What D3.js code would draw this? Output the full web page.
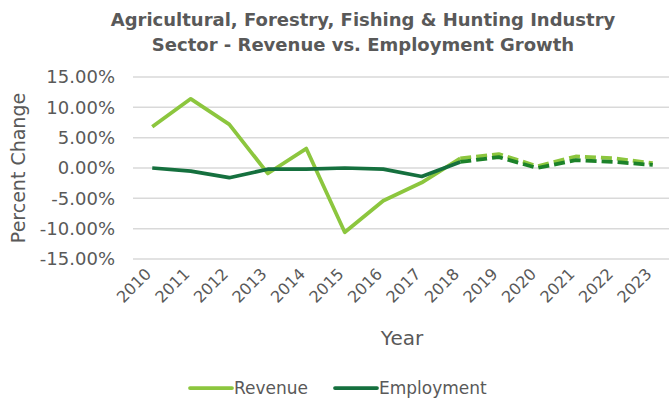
<!DOCTYPE html>
<html>
<head>
<meta charset="utf-8">
<script src="https://cdn.jsdelivr.net/npm/d3@7"></script>
<style>
  body { margin: 0; background: #fff; }
  text { font-family: "DejaVu Sans", Verdana, sans-serif; fill: #595959; }
</style>
</head>
<body>
<script>
// Revenue vs employment growth, actual to 2018 then projected (dashed)
var years = ['2010', '2011', '2012', '2013', '2014', '2015', '2016',
             '2017', '2018', '2019', '2020', '2021', '2022', '2023'];
var revenue = [6.8, 11.4, 7.2, -0.9, 3.2, -10.6, -5.4,
               -2.4, 1.6, 2.3, 0.3, 1.9, 1.6, 0.8];
var employment = [0.0, -0.5, -1.6, -0.2, -0.2, 0.0, -0.2,
                  -1.4, 1.0, 1.8, 0.0, 1.3, 1.0, 0.5];
var yTicks = [15, 10, 5, 0, -5, -10, -15];
var lastActual = '2018';

var w = 669;
var h = 401;
var svg = d3.select('body')
            .append('svg')
            .attr('width', w)
            .attr('height', h);

var xScale = d3.scaleBand()
               .domain(years)
               .range([133, 672]);
var yScale = d3.scaleLinear()
               .domain([-15, 15])
               .range([259, 77]);

var xc = function(d) { return xScale(d) + xScale.bandwidth() / 2; };

// title
var title = svg.append('text')
               .attr('x', 363)
               .attr('text-anchor', 'middle')
               .style('font-weight', 'bold')
               .style('font-size', '18px');
title.append('tspan').attr('x', 363).attr('y', 26)
     .text('Agricultural, Forestry, Fishing & Hunting Industry');
title.append('tspan').attr('x', 363).attr('y', 51)
     .text('Sector - Revenue vs. Employment Growth');

// gridlines
svg.append('g')
   .selectAll('line')
   .data(yTicks)
   .enter()
   .append('line')
   .attr('x1', 133)
   .attr('x2', w)
   .attr('y1', function(d) { return yScale(d); })
   .attr('y2', function(d) { return yScale(d); })
   .attr('stroke', '#d9d9d9')
   .attr('stroke-width', 1.5);

// y axis labels
var yAxis = svg.append('g')
   .attr('transform', 'translate(122,0)')
   .call(d3.axisLeft(yScale)
           .tickValues(yTicks)
           .tickSize(0)
           .tickPadding(7)
           .tickFormat(function(d) { return d.toFixed(2) + '%'; }));
yAxis.select('.domain').remove();
yAxis.selectAll('text')
     .style('font-size', '18px')
     .attr('fill', '#595959');

svg.append('text')
   .attr('transform', 'translate(25,168) rotate(-90)')
   .attr('text-anchor', 'middle')
   .style('font-size', '19px')
   .text('Percent Change');

// x axis labels
var xAxis = svg.append('g')
   .attr('transform', 'translate(0,262)')
   .call(d3.axisBottom(xScale).tickSize(0).tickPadding(0));
xAxis.select('.domain').remove();
xAxis.selectAll('text')
     .attr('fill', '#595959')
     .style('font-size', '16px')
     .attr('text-anchor', 'end')
     .attr('dy', '0.35em')
     .attr('transform', 'translate(-4,9) rotate(-45)');

svg.append('text')
   .attr('x', 402)
   .attr('y', 345)
   .attr('text-anchor', 'middle')
   .style('font-size', '20px')
   .text('Year');

// lines
var split = years.indexOf(lastActual);
var series = [
    {name: 'Revenue', values: revenue, color: '#8cc63e', dashColor: '#8cc63e'},
    {name: 'Employment', values: employment, color: '#15703e', dashColor: '#1c8229'}
];
var line = d3.line()
             .x(function(d) { return xc(d.year); })
             .y(function(d) { return yScale(d.value); });

series.forEach(function(s) {
    var pts = years.map(function(y, i) { return {year: y, value: s.values[i]}; });
    svg.append('path')
       .datum(pts.slice(0, split + 1))
       .attr('d', line)
       .attr('fill', 'none')
       .attr('stroke', s.color)
       .attr('stroke-width', 3.75)
       .attr('stroke-linejoin', 'round');
    svg.append('path')
       .datum(pts.slice(split))
       .attr('d', line)
       .attr('fill', 'none')
       .attr('stroke', s.dashColor)
       .attr('stroke-width', 3.75)
       .attr('stroke-dasharray', '11,5')
       .attr('stroke-linejoin', 'round');
});

// legend
var legend = svg.append('g')
   .selectAll('g')
   .data(series)
   .enter()
   .append('g')
   .attr('transform', function(d, i) { return 'translate(' + (190 + i * 145) + ',388)'; });
legend.append('line')
      .attr('x1', 0)
      .attr('x2', 42)
      .attr('stroke', function(d) { return d.color; })
      .attr('stroke-width', 3.75)
      .attr('stroke-linecap', 'round');
legend.append('text')
      .attr('x', 44)
      .attr('dy', '0.35em')
      .style('font-size', '17px')
      .text(function(d) { return d.name; });
</script>
</body>
</html>
